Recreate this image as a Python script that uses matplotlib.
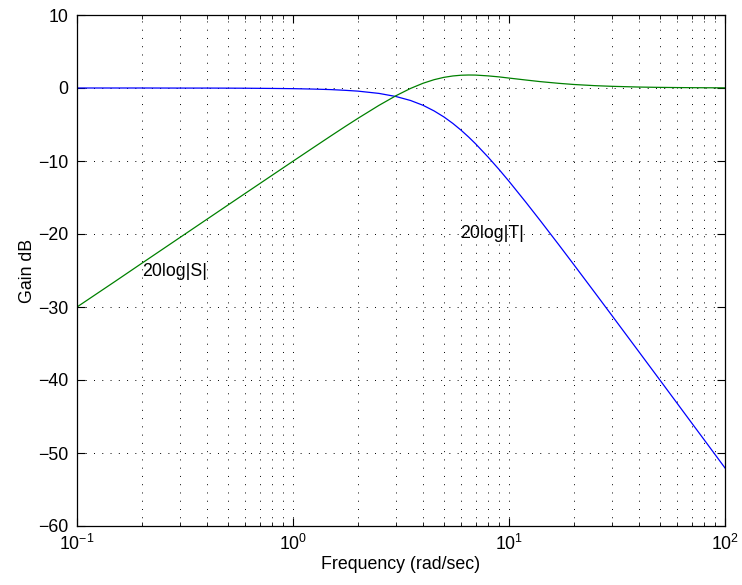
import matplotlib
matplotlib.use("Agg")
import matplotlib.pyplot as plt
from matplotlib.ticker import LogLocator, NullFormatter

plt.rcParams["font.family"] = ["Liberation Sans", "DejaVu Sans"]
plt.rcParams["font.size"] = 12.8
plt.rcParams["axes.unicode_minus"] = True

# frequencies (rad/sec) and gains (dB)
freq = [0.1, 0.15, 0.2, 0.3, 0.4, 0.5, 0.6, 0.8, 1.0, 1.25, 1.5, 1.75, 2.0,
        2.5, 3.0, 3.5, 4.0, 4.5, 5.0, 5.5, 6.0, 6.5, 7.0, 8.0, 9.0, 10.0,
        12.0, 14.0, 17.0, 20.0, 25.0, 30.0, 40.0, 50.0, 60.0, 70.0, 80.0, 100.0]

gain_T = [0.0, 0.0, 0.0, -0.01, -0.01, -0.02, -0.03, -0.06, -0.09, -0.15,
          -0.22, -0.32, -0.43, -0.74, -1.17, -1.71, -2.37, -3.14, -3.97,
          -4.86, -5.78, -6.71, -7.64, -9.46, -11.17, -12.78, -15.69, -18.22,
          -21.47, -24.23, -28.05, -31.19, -36.16, -40.02, -43.18, -45.86,
          -48.17, -52.05]

gain_S = [-30.0, -26.5, -23.99, -20.47, -17.97, -16.03, -14.45, -11.96,
          -10.03, -8.11, -6.55, -5.25, -4.15, -2.38, -1.05, -0.06, 0.65,
          1.14, 1.46, 1.65, 1.75, 1.78, 1.77, 1.66, 1.52, 1.36, 1.09, 0.87,
          0.64, 0.48, 0.32, 0.23, 0.13, 0.085, 0.06, 0.044, 0.034, 0.02]

y_ticks = [-60, -50, -40, -30, -20, -10, 0, 10]


def main():
    fig = plt.figure(figsize=(7.42, 5.85), dpi=100)
    ax = fig.add_axes([77 / 742, 59 / 585, 648 / 742, 511 / 585])

    ax.semilogx(freq, gain_T, color=(0, 0, 1), linewidth=0.9)
    ax.semilogx(freq, gain_S, color=(0, 0.5, 0), linewidth=0.9)

    ax.set_xlim(0.1, 100)
    ax.set_ylim(-60, 10)
    ax.set_yticks(y_ticks)
    ax.xaxis.set_minor_locator(LogLocator(base=10, subs=range(2, 10)))
    ax.xaxis.set_minor_formatter(NullFormatter())

    dots = (0, (1, 7.5))
    ax.grid(True, which="major", axis="both", color="black",
            linestyle=dots, linewidth=0.7)
    ax.grid(True, which="minor", axis="x", color="black",
            linestyle=dots, linewidth=0.7)

    ax.tick_params(which="both", direction="in", top=True, right=True)
    ax.tick_params(which="major", length=6, width=0.8, pad=6)
    ax.tick_params(which="minor", length=3, width=0.6)
    for spine in ax.spines.values():
        spine.set_linewidth(0.9)

    ax.text(0.2, -25.2, "20log|S|", va="center", ha="left")
    ax.text(5.93, -20, "20log|T|", va="center", ha="left")

    ax.set_xlabel("Frequency (rad/sec)", labelpad=1)
    ax.set_ylabel("Gain dB", labelpad=2)

    fig.savefig("out.png", dpi=100)


if __name__ == "__main__":
    main()
